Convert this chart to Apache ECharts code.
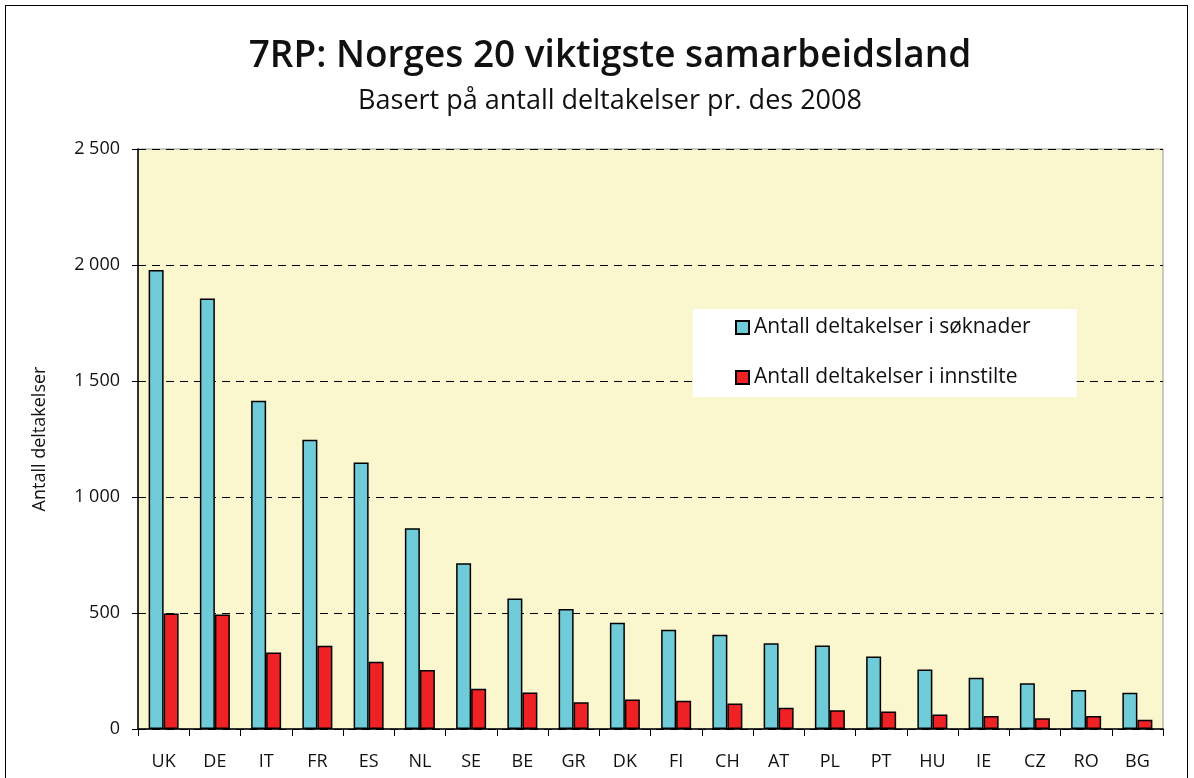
<!DOCTYPE html>
<html>
<head>
<meta charset="utf-8">
<script src="https://cdn.jsdelivr.net/npm/echarts@6/dist/echarts.min.js"></script>
<style>
  html, body { margin: 0; padding: 0; background: #fff; }
  .frame {
    position: absolute; left: 5px; top: 5px; width: 1183px; height: 800px;
    border: 1.5px solid #000; box-sizing: border-box;
  }
  #chart { position: absolute; left: 0; top: 0; width: 1194px; height: 778px; }
</style>
</head>
<body>
<div class="frame"></div>
<div id="chart"></div>
<script>
// land (kategorier)
const countries = ['UK', 'DE', 'IT', 'FR', 'ES', 'NL', 'SE', 'BE', 'GR', 'DK',
  'FI', 'CH', 'AT', 'PL', 'PT', 'HU', 'IE', 'CZ', 'RO', 'BG']
// deltakelser i søknader
const applied = [1978, 1856, 1415, 1247, 1149, 865, 714, 563, 517, 458,
  428, 406, 370, 360, 313, 256, 221, 197, 168, 156]
// deltakelser i innstilte
const selected = [498, 493, 330, 359, 290, 254, 174, 157, 115, 127,
  122, 110, 92, 81, 75, 62, 56, 46, 56, 40]
const yTicks = [0, 500, 1000, 1500, 2000, 2500]

const fontFam = '"Open Sans", "Noto Sans", sans-serif'
const fmt = (v) => String(v).replace(/\B(?=(\d{3})+(?!\d))/g, ' ')

const chart = echarts.init(document.getElementById('chart'))
chart.setOption({
  animation: false,
  textStyle: { fontFamily: fontFam },
  title: [
    {
      text: '7RP: Norges 20 viktigste samarbeidsland',
      left: 605, top: 33, textAlign: 'center',
      textStyle: { fontSize: 37, fontWeight: 600, color: '#111', fontFamily: fontFam }
    },
    {
      text: 'Basert på antall deltakelser pr. des 2008',
      left: 605, top: 83, textAlign: 'center',
      textStyle: { fontSize: 27, fontWeight: 400, color: '#111', fontFamily: fontFam }
    }
  ],
  legend: {
    orient: 'vertical',
    left: 693, top: 309,
    padding: [8, 46, 9, 42],
    itemGap: 29,
    itemWidth: 13, itemHeight: 13,
    icon: 'rect',
    backgroundColor: '#fff',
    textStyle: { fontSize: 21, color: '#111', fontFamily: fontFam },
    data: ['Antall deltakelser i søknader', 'Antall deltakelser i innstilte']
  },
  grid: { left: 138, right: 31, top: 149, bottom: 49, show: true,
    backgroundColor: '#FAF7CF', borderColor: '#999', borderWidth: 1 },
  xAxis: {
    type: 'category',
    data: countries,
    axisLine: { lineStyle: { color: '#000', width: 1.5 } },
    axisTick: { show: true, length: 7, lineStyle: { color: '#000' } },
    axisLabel: { fontSize: 18, color: '#111', margin: 24 }
  },
  yAxis: {
    type: 'value',
    min: yTicks[0], max: yTicks[yTicks.length - 1], interval: 500,
    name: 'Antall deltakelser',
    nameLocation: 'middle',
    nameGap: 89,
    nameTextStyle: { fontSize: 18, color: '#111' },
    axisLine: { show: true, lineStyle: { color: '#000', width: 1.5 } },
    axisTick: { show: true, length: 6, lineStyle: { color: '#000' } },
    axisLabel: { fontSize: 18, color: '#111', margin: 18, formatter: fmt },
    splitLine: { show: true, lineStyle: { color: '#000', type: [8, 6], width: 1 } }
  },
  series: [
    {
      name: 'Antall deltakelser i søknader',
      type: 'bar',
      data: applied,
      barWidth: 15,
      barGap: '0%',
      itemStyle: { color: '#70CBD9', borderColor: '#000', borderWidth: 1.5 }
    },
    {
      name: 'Antall deltakelser i innstilte',
      type: 'bar',
      data: selected,
      barWidth: 15,
      barGap: '0%',
      itemStyle: { color: '#EE2224', borderColor: '#000', borderWidth: 1.5 }
    }
  ]
})
</script>
</body>
</html>
